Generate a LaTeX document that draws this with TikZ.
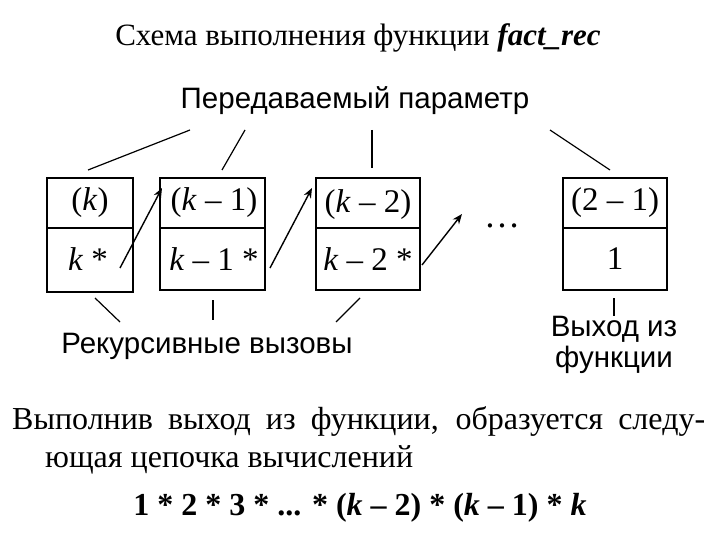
\documentclass[tikz,border=0pt]{standalone}
\usepackage{fontspec}
\usetikzlibrary{arrows.meta}
\setmainfont{Liberation Serif}
\newfontfamily\lsans{Liberation Sans}
\begin{document}
\begin{tikzpicture}[x=1pt,y=-1pt,
 bx/.style={draw,line width=1.2pt},
 ln/.style={line width=1.2pt},
 arr/.style={line width=1.4pt,-{Stealth[length=10pt,width=8pt]}},
 bt/.style={font=\fontsize{33}{36}\selectfont},
 lab/.style={font=\lsans\fontsize{29.5}{33}\selectfont}]
\useasboundingbox (0,0) rectangle (720,540);
\node (title) at (358,38) {\fontsize{31}{34}\selectfont Схема выполнения функции \textbf{\textit{fact\_rec}}};
\node[lab] (par) at (355,101) {Передаваемый параметр};
% boxes
\draw[bx] (47,178) rectangle (133,292); \draw[ln] (47,228) -- (133,228);
\draw[bx] (160,178) rectangle (265,290); \draw[ln] (160,228) -- (265,228);
\draw[bx] (316,178) rectangle (420,290); \draw[ln] (316,228) -- (420,228);
\draw[bx] (563,178) rectangle (667,290); \draw[ln] (563,228) -- (667,228);
\node[bt] (a1) at (90,203) {(\textit{k})};
\node[bt] (a2) at (88,259) {\textit{k} *};
\node[bt] (b1) at (214,203) {(\textit{k} – 1)};
\node[bt] (b2) at (214,259) {\textit{k} – 1 *};
\node[bt] (c1) at (368,205) {(\textit{k} – 2)};
\node[bt] (c2) at (368,259) {\textit{k} – 2 *};
\node[bt] (d1) at (615,203) {(2 – 1)};
\node[bt] (d2) at (615,259) {1};
\node[font=\fontsize{36}{36}\selectfont] (dots) at (502,226) {\dots};
% parameter lines
\coordinate (p1) at (190,130); \coordinate (q1) at (88,170);
\coordinate (p2) at (245,130); \coordinate (q2) at (222,170);
\coordinate (p3) at (372,130); \coordinate (q3) at (372,168);
\coordinate (p4) at (550,130); \coordinate (q4) at (610,170);
\draw[ln] (p1)--(q1); \draw[ln] (p2)--(q2); \draw[ln] (p3)--(q3); \draw[ln] (p4)--(q4);
% arrows
\coordinate (s1) at (120,268); \coordinate (e1) at (162,188);
\coordinate (s2) at (270,268); \coordinate (e2) at (312,188);
\coordinate (s3) at (422,265); \coordinate (e3) at (462,214);
\draw[arr] (s1)--(e1); \draw[arr] (s2)--(e2); \draw[arr] (s3)--(e3);
% bottom lines
\node[lab] (rec) at (207,346) {Рекурсивные вызовы};
\node[lab,align=center] (exit) at (614,345) {Выход из\\[-2pt]функции};
\coordinate (r1) at (95,298); \coordinate (t1) at (120,322);
\coordinate (r2) at (213,300); \coordinate (t2) at (213,320);
\coordinate (r3) at (360,298); \coordinate (t3) at (336,322);
\coordinate (r4) at (614,298); \coordinate (t4) at (614,316);
\draw[ln] (r1)--(t1); \draw[ln] (r2)--(t2); \draw[ln] (r3)--(t3); \draw[ln] (r4)--(t4);
% paragraph
\node[anchor=west,inner sep=0pt,font=\fontsize{32}{36}\selectfont] (l1) at (12,421) {\makebox[693pt][s]{Выполнив выход из функции, образуется следу-}};
\node[anchor=west,inner sep=0pt,font=\fontsize{32}{36}\selectfont] (l2) at (45,460) {ющая цепочка вычислений};
\node[font=\bfseries\fontsize{32}{35}\selectfont] (f) at (360,508) {1 * 2 * 3 * ... * (\textit{k} – 2) * (\textit{k} – 1) * \textit{k}};
\end{tikzpicture}
\end{document}
